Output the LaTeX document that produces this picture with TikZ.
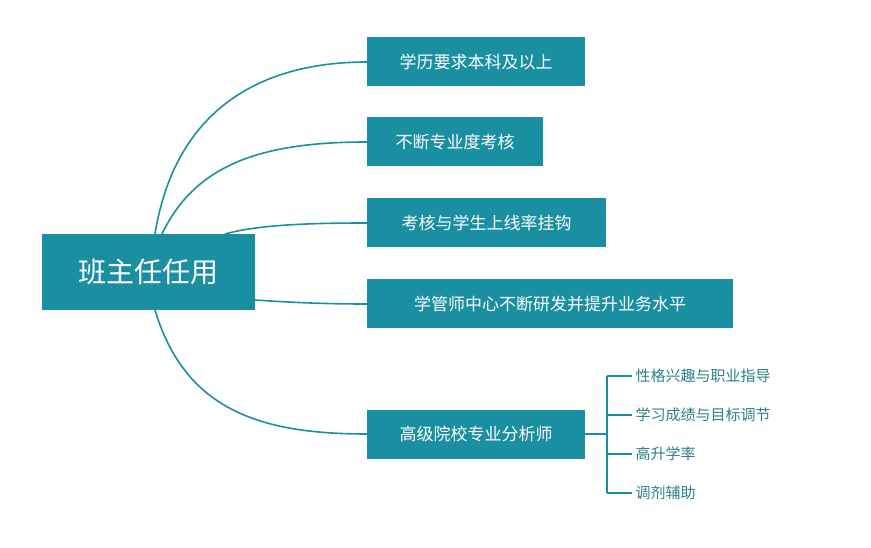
\documentclass[tikz,border=0pt]{standalone}
\usepackage{fontspec}
\setmainfont{Noto Sans CJK SC}
\begin{document}
\begin{tikzpicture}[x=1pt,y=-1pt,
  box/.style={fill=tc,text=white,anchor=west,minimum height=49pt,inner xsep=13pt,font=\fontsize{17pt}{20pt}\selectfont},
  ln/.style={draw=tc,line width=1.6pt},
  leaf/.style={anchor=west,text=tc2,font=\fontsize{15pt}{18pt}\selectfont}]
\definecolor{tc}{HTML}{1A8FA2}
\definecolor{tc2}{HTML}{2A7F8A}
\useasboundingbox (0,0) rectangle (871,548);
\node[box,minimum width=213pt,minimum height=76pt,font=\fontsize{28pt}{32pt}\selectfont] (r) at (42,272) {班主任任用};
\node[box,minimum width=218pt] (b1) at (367,62) {学历要求本科及以上};
\node[box,minimum width=176pt] (b2) at (367,142) {不断专业度考核};
\node[box,minimum width=239pt] (b3) at (367,223) {考核与学生上线率挂钩};
\node[box,minimum width=366pt] (b4) at (367,304) {学管师中心不断研发并提升业务水平};
\node[box,minimum width=218pt] (b5) at (367,434) {高级院校专业分析师};
\coordinate (s1) at (155,234);
\coordinate (s2) at (162,234);
\coordinate (s3) at (225,234);
\coordinate (s4) at (255,300);
\coordinate (s5) at (155,310);
\draw[ln] (s1) .. controls (175,110) and (260,62) .. (b1.west);
\draw[ln] (s2) .. controls (195,165) and (260,142) .. (b2.west);
\draw[ln] (s3) .. controls (260,224) and (320,223) .. (b3.west);
\draw[ln] (s4) .. controls (300,303) and (330,304) .. (b4.west);
\draw[ln] (s5) .. controls (185,410) and (260,434) .. (b5.west);
\coordinate (j) at (607,434);
\coordinate (t1) at (607,376);
\coordinate (t4) at (607,493);
\draw[draw=tc,line width=1.2pt] (b5.east) -- (j);
\draw[draw=tc,line width=1.2pt] (t1) -- (t4);
\foreach \y/\t [count=\i] in {376/性格兴趣与职业指导,415/学习成绩与目标调节,454/高升学率,493/调剂辅助}{
  \coordinate (k\i) at (607,\y);
  \node[leaf] (l\i) at (632,\y) {\t};
  \draw[draw=tc,line width=1.2pt] (k\i) -- (l\i.west);
}
\end{tikzpicture}
\end{document}
